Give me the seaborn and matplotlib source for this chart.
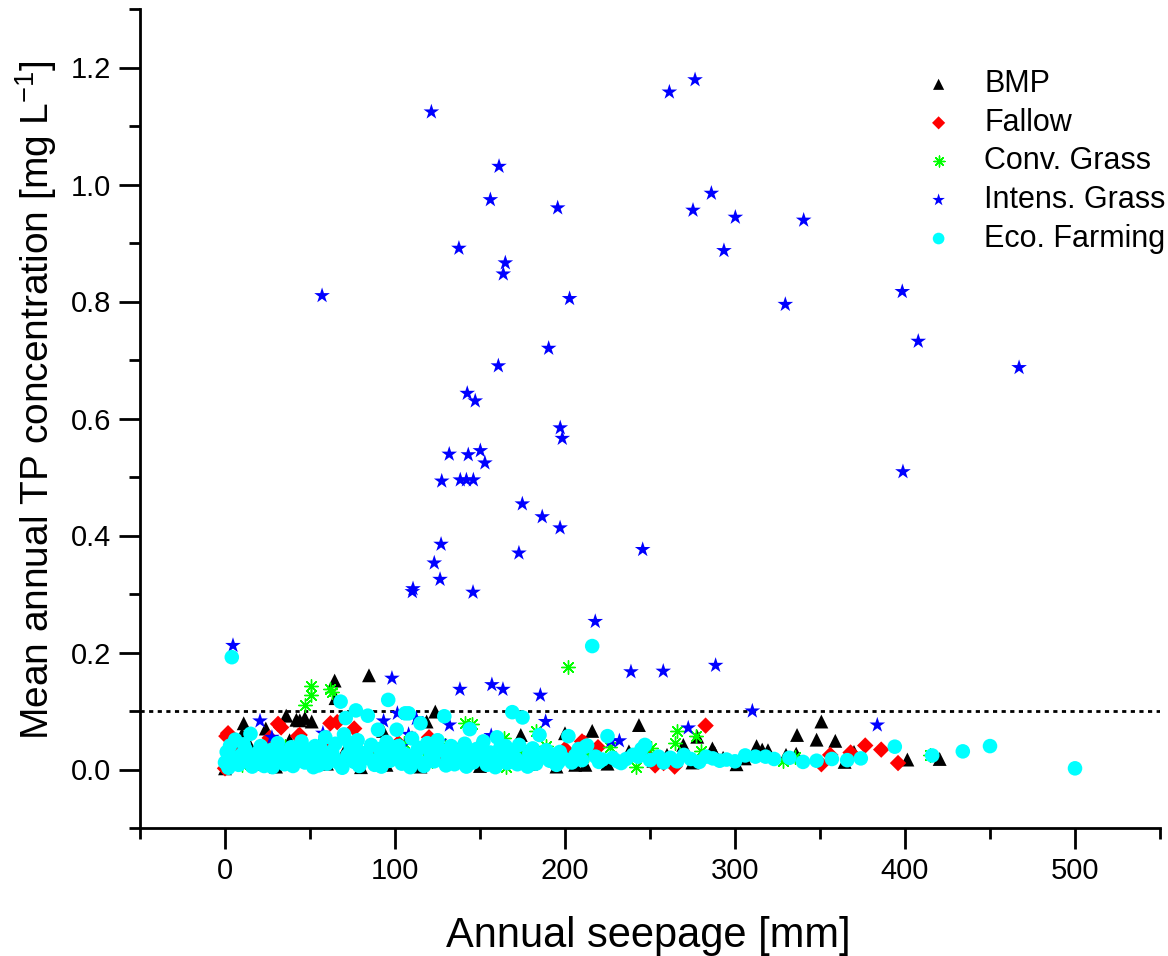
import numpy as np
import pandas as pd
import matplotlib
matplotlib.use("Agg")
import matplotlib.pyplot as plt
from matplotlib.ticker import MultipleLocator, FormatStrFormatter
import seaborn as sns

# ---- data (seepage mm, TP mg/L) ----
bmp_x = [11, 14, 24, 36, 42, 44, 51, 64.5, 65, 84.7, 93, 118.6, 123.7, 174, 200, 206, 212, 216,
         237.6, 243.5, 269.6, 277.8, 286.7, 288, 300.9, 305.7, 312.7, 316, 319.4, 330, 336, 336.5,
         348, 350.8, 359, 364.5, 370, 401.4, 420.4,
         0, 3, 8, 18, 26, 30, 38, 47, 55, 60, 70, 75, 80, 88, 95, 100, 105, 110, 115, 128, 133,
         140, 150, 158, 165, 180, 190, 195, 225, 230, 252, 260, 275, 293, 47, 10]
bmp_y = [0.079, 0.045, 0.070, 0.092, 0.085, 0.084, 0.082, 0.152, 0.122, 0.161, 0.066, 0.082, 0.099,
         0.059, 0.062, 0.008, 0.008, 0.066, 0.031, 0.076, 0.042, 0.056, 0.036, 0.029, 0.009, 0.019,
         0.040, 0.034, 0.033, 0.025, 0.027, 0.059, 0.051, 0.082, 0.049, 0.013, 0.030, 0.017, 0.018,
         0.002, 0.025, 0.040, 0.010, 0.035, 0.005, 0.050, 0.020, 0.040, 0.010, 0.030, 0.045, 0.004,
         0.025, 0.008, 0.040, 0.015, 0.055, 0.005, 0.030, 0.012, 0.040, 0.006, 0.025, 0.045, 0.010,
         0.030, 0.005, 0.010, 0.020, 0.015, 0.025, 0.012, 0.020, 0.088, 0.060]

fallow_x = [0, 0.8, 1.8, 5, 9, 26.3, 26.3, 31.2, 33, 43, 43.9, 50, 58, 62, 66, 70, 76, 85, 95, 102,
            112, 120, 130, 138, 150, 160, 175, 190, 200, 210, 211.6, 219.4, 247.8, 253, 258, 264.5,
            282.7, 350.8, 356, 368, 376.6, 386, 395.9]
fallow_y = [0.002, 0.057, 0.062, 0.030, 0.015, 0.054, 0.036, 0.078, 0.072, 0.057, 0.059, 0.025,
            0.040, 0.079, 0.081, 0.020, 0.070, 0.035, 0.012, 0.045, 0.028, 0.055, 0.018, 0.035,
            0.040, 0.010, 0.030, 0.020, 0.035, 0.048, 0.045, 0.038, 0.026, 0.007, 0.011, 0.005,
            0.075, 0.009, 0.025, 0.029, 0.041, 0.034, 0.011]

conv_x = [47.2, 50.4, 50.8, 62, 62.9, 46.9, 20, 35, 55, 70, 80, 90, 97.8, 105, 115, 122, 129.2, 141,
          150, 164.1, 174.3, 183.1, 189, 201.8, 205, 213.5, 226.3, 242, 250.8, 264.5, 266.1, 277.2,
          280.2, 328.2, 335.1, 414.5, 10, 145, 165]
conv_y = [0.111, 0.143, 0.128, 0.138, 0.133, 0.031, 0.020, 0.040, 0.015, 0.050, 0.035, 0.020, 0.028,
          0.045, 0.030, 0.015, 0.042, 0.079, 0.025, 0.054, 0.033, 0.066, 0.041, 0.175, 0.020, 0.025,
          0.038, 0.005, 0.036, 0.045, 0.065, 0.058, 0.031, 0.015, 0.022, 0.024, 0.008, 0.078, 0.005]

intens_x = [4.7, 20.6, 27.6, 57.1, 57.6, 93.3, 98.2, 101.4, 103.7, 108, 110.2, 110.6, 112.5, 121.4,
            123.1, 126.3, 126.5, 127.1, 127.5, 131.9, 132, 137.6, 138.2, 138.4, 142.0, 142.5, 143.1,
            145.9, 146.1, 147.2, 150.2, 152.9, 156.1, 156.6, 157, 160.8, 161.2, 163.5, 163.7, 164.9,
            172.9, 174.9, 185.5, 186.6, 188.6, 190.4, 195.7, 197.1, 197.2, 198.4, 202.7, 217.8, 227,
            232, 238.8, 245.7, 257.8, 261.4, 272.5, 275.3, 276.5, 286.1, 288.6, 293.5, 300.2, 310.2,
            329.6, 340.4, 383.7, 398.4, 398.8, 407.8, 467.1]
intens_y = [0.212, 0.083, 0.055, 0.810, 0.062, 0.083, 0.156, 0.096, 0.039, 0.060, 0.304, 0.309,
            0.087, 1.124, 0.353, 0.048, 0.325, 0.385, 0.493, 0.539, 0.076, 0.891, 0.137, 0.495,
            0.495, 0.643, 0.538, 0.303, 0.495, 0.630, 0.545, 0.524, 0.974, 0.058, 0.145, 0.690,
            1.031, 0.137, 0.847, 0.866, 0.370, 0.454, 0.127, 0.432, 0.082, 0.720, 0.960, 0.413,
            0.584, 0.566, 0.805, 0.253, 0.049, 0.049, 0.167, 0.376, 0.168, 1.158, 0.071, 0.956,
            1.179, 0.985, 0.178, 0.887, 0.944, 0.100, 0.795, 0.939, 0.076, 0.817, 0.509, 0.732,
            0.687]

eco_x = [0, 1, 2, 3, 4, 5, 6, 8, 10, 12,
         14, 15, 17, 19, 21, 23, 25, 27, 29, 31,
         33, 35, 37, 39, 41, 43, 45, 47, 49, 51,
         53, 55, 57, 59, 61, 63, 65, 67, 68, 70,
         71, 72, 74, 76, 77, 78, 80, 82, 84, 86,
         88, 90, 91, 93, 95, 96, 97, 99, 101, 102,
         104, 106, 106, 108, 110, 112, 114, 115, 117, 119,
         121, 123, 125, 127, 129, 131, 133, 135, 137, 139,
         141, 143, 144, 146, 148, 150, 152, 154, 156, 158,
         160, 162, 164, 166, 168, 169, 171, 173, 175, 177,
         179, 181, 183, 185, 187, 189, 191, 193, 195, 197,
         199, 202, 204, 206, 208, 210, 212, 213, 216, 218,
         220, 222, 225, 228, 231, 233, 236, 240, 243, 245, 247,
         250, 255, 258, 262, 266, 270, 274, 279, 283, 287, 291, 295, 300, 306, 312, 318, 323,
         332, 340, 348, 357, 366, 374, 394, 416, 434, 450, 500, 4,
         2, 7, 11, 16, 20, 24, 28, 32, 36, 40, 44, 48, 52, 56, 60, 64, 69, 73, 79, 83,
         87, 92, 98, 103, 109, 113, 118, 124, 130, 136, 142, 147, 153, 159, 165, 172, 178, 184, 190, 196]
eco_y = [0.012, 0.030, 0.005, 0.041, 0.022, 0.015, 0.051, 0.008, 0.026, 0.035,
         0.018, 0.061, 0.010, 0.028, 0.040, 0.006, 0.022, 0.033, 0.014, 0.045,
         0.020, 0.009, 0.030, 0.038, 0.016, 0.025, 0.048, 0.012, 0.034, 0.021,
         0.040, 0.007, 0.027, 0.055, 0.017, 0.031, 0.044, 0.011, 0.116, 0.060,
         0.088, 0.024, 0.036, 0.013, 0.101, 0.050, 0.029, 0.019, 0.092, 0.042,
         0.008, 0.068, 0.035, 0.022, 0.047, 0.119, 0.015, 0.030, 0.068, 0.040,
         0.010, 0.096, 0.026, 0.096, 0.053, 0.018, 0.037, 0.079, 0.006, 0.045,
         0.028, 0.014, 0.050, 0.033, 0.091, 0.021, 0.040, 0.009, 0.030, 0.016,
         0.044, 0.025, 0.069, 0.012, 0.035, 0.020, 0.048, 0.008, 0.029, 0.017,
         0.055, 0.038, 0.022, 0.011, 0.031, 0.098, 0.019, 0.042, 0.089, 0.014,
         0.027, 0.036, 0.010, 0.059, 0.021, 0.033, 0.015, 0.025, 0.008, 0.030,
         0.019, 0.057, 0.012, 0.024, 0.035, 0.016, 0.039, 0.041, 0.211, 0.022,
         0.013, 0.017, 0.057, 0.020, 0.014, 0.011, 0.018, 0.025, 0.022, 0.035, 0.042,
         0.016, 0.022, 0.012, 0.020, 0.014, 0.025, 0.018, 0.013, 0.022, 0.019, 0.015, 0.017,
         0.014, 0.024, 0.022, 0.022, 0.018,
         0.020, 0.013, 0.015, 0.018, 0.016, 0.019, 0.039, 0.024, 0.031, 0.040, 0.002, 0.192,
         0.003, 0.020, 0.043, 0.005, 0.012, 0.032, 0.004, 0.025, 0.013, 0.006, 0.030, 0.019,
         0.004, 0.038, 0.010, 0.021, 0.003, 0.046, 0.006, 0.028,
         0.015, 0.005, 0.039, 0.020, 0.004, 0.032, 0.012, 0.038, 0.007, 0.024, 0.005, 0.016,
         0.027, 0.004, 0.040, 0.009, 0.005, 0.018, 0.026, 0.012]

groups = ["BMP", "Fallow", "Conv. Grass", "Intens. Grass", "Eco. Farming"]
xs = [bmp_x, fallow_x, conv_x, intens_x, eco_x]
ys = [bmp_y, fallow_y, conv_y, intens_y, eco_y]

df = pd.concat([pd.DataFrame({"seepage": x, "tp": y, "group": g})
                for g, x, y in zip(groups, xs, ys)], ignore_index=True)

colors = {"BMP": "#000000", "Fallow": "#ff0000", "Conv. Grass": "#00ff00",
          "Intens. Grass": "#0000ff", "Eco. Farming": "#00ffff"}
markers = {"BMP": "^", "Fallow": "D", "Conv. Grass": (8, 2, 0),
           "Intens. Grass": "*", "Eco. Farming": "o"}
sizes = {"BMP": 100, "Fallow": 70, "Conv. Grass": 95, "Intens. Grass": 140, "Eco. Farming": 110}

sns.set_style("ticks")
plt.rcParams["font.family"] = ["Liberation Sans", "DejaVu Sans"]
plt.rcParams["mathtext.fontset"] = "custom"
plt.rcParams["mathtext.rm"] = "Liberation Sans"
plt.rcParams["mathtext.default"] = "regular"
plt.rcParams["text.color"] = "black"
plt.rcParams["axes.labelcolor"] = "black"
plt.rcParams["axes.edgecolor"] = "black"
plt.rcParams["xtick.color"] = "black"
plt.rcParams["ytick.color"] = "black"

fig = plt.figure(figsize=(11.68, 9.56), dpi=100)
ax = fig.add_axes([140 / 1168, 1 - 828 / 956, 1020 / 1168, 819 / 956])

ax.axhline(0.1, color="black", lw=2, ls=(0, (1.5, 1.6)), zorder=1)

for g in groups:
    sub = df[df["group"] == g]
    if g == "Conv. Grass":
        sns.scatterplot(data=sub, x="seepage", y="tp", marker=markers[g], color=colors[g],
                        s=sizes[g], linewidth=1, ax=ax, label=g, zorder=2)
    else:
        sns.scatterplot(data=sub, x="seepage", y="tp", marker=markers[g], color=colors[g],
                        s=sizes[g], linewidth=0, edgecolor="none", ax=ax, label=g, zorder=2)

ax.set_xlim(-50, 550)
ax.set_ylim(-0.1, 1.3)
ax.xaxis.set_major_locator(MultipleLocator(100))
ax.xaxis.set_minor_locator(MultipleLocator(50))
ax.yaxis.set_major_locator(MultipleLocator(0.2))
ax.yaxis.set_minor_locator(MultipleLocator(0.1))
ax.yaxis.set_major_formatter(FormatStrFormatter("%.1f"))

sns.despine(ax=ax)
for sp in ["left", "bottom"]:
    ax.spines[sp].set_linewidth(2)
ax.tick_params(which="major", direction="out", length=15, width=2, labelsize=21, pad=6,
               colors="black")
ax.tick_params(which="minor", direction="out", length=8, width=2, colors="black")

ax.set_xlabel("Annual seepage [mm]", fontsize=30)
ax.set_ylabel("Mean annual TP concentration [mg L$^{-1}$]", fontsize=28)
ax.xaxis.set_label_coords(0.498, -0.108)
ax.yaxis.set_label_coords(-0.079, 0.522)

leg = ax.legend(loc="upper left", bbox_to_anchor=(0.75, 0.945), frameon=False, fontsize=22,
                markerscale=0.8, handletextpad=0.9, labelspacing=0.28, borderpad=0,
                handlelength=1.2)

fig.savefig("out.png", dpi=100)
